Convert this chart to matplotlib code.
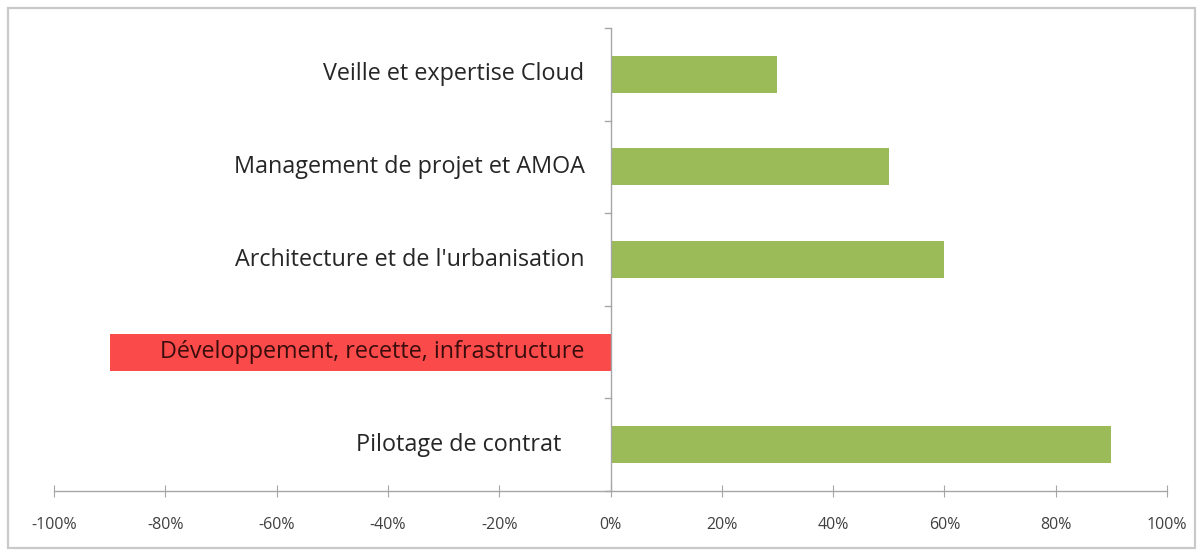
import matplotlib.pyplot as plt
import matplotlib.patches as ptc
import matplotlib.transforms as mtr
from matplotlib.ticker import FuncFormatter

# data, bottom to top
categories = ['Pilotage de contrat', 'Développement, recette, infrastructure',
              "Architecture et de l'urbanisation", 'Management de projet et AMOA',
              'Veille et expertise Cloud']
values = [90, -90, 60, 50, 30]
xticks = [-100, -80, -60, -40, -20, 0, 20, 40, 60, 80, 100]

green = '#9bbb59'
red = '#fb4a4a'
axcol = '#a6a6a6'

plt.rcParams['font.family'] = ['Open Sans', 'DejaVu Sans']

fig = plt.figure(figsize=(12.02, 5.52), dpi=100)
ax = fig.add_axes([54/1202, 61/552, (1167-54)/1202, (491-28)/552])

# outer chart frame
fig.patches.append(ptc.Rectangle((8/1202, 4/552), 1187/1202, 540/552, transform=fig.transFigure,
                                 fill=False, edgecolor='#c9c9c9', linewidth=1.6))

ypos = list(range(len(categories)))
cols = [red if v < 0 else green for v in values]
ax.barh(ypos, values, height=0.4, color=cols, zorder=2)

ax.set_xlim(-100, 100)
ax.set_ylim(-0.5, len(categories) - 0.5)
ax.set_xticks(xticks)
ax.xaxis.set_major_formatter(FuncFormatter(lambda v, p: '%d%%' % v))
ax.tick_params(axis='x', direction='inout', length=9, color=axcol, labelsize=11.5,
               labelcolor='#404040', pad=14)

for s in ['top', 'right', 'left']:
    ax.spines[s].set_visible(False)
ax.spines['bottom'].set_color(axcol)
ax.spines['bottom'].set_linewidth(1.0)

# category axis at 0
ax.axvline(0, color=axcol, linewidth=1.0, zorder=3)
for b in range(len(categories) + 1):
    ax.plot([-1.0, 0], [b - 0.5, b - 0.5], color=axcol, linewidth=1.0, zorder=3, clip_on=False)

ax.set_yticks(ypos)
ax.set_yticklabels([])
ax.tick_params(axis='y', length=0)
for y, lab in zip(ypos, categories):
    off = -23 if y == 0 else 0
    tr = mtr.offset_copy(ax.transData, fig=fig, x=-26 + off, y=0, units='dots')
    ax.text(0, y, lab, transform=tr, ha='right', va='center', fontsize=16.8,
            color='#3a0d0d' if values[y] < 0 else '#262626', zorder=4)

fig.savefig('out.png', dpi=100)
